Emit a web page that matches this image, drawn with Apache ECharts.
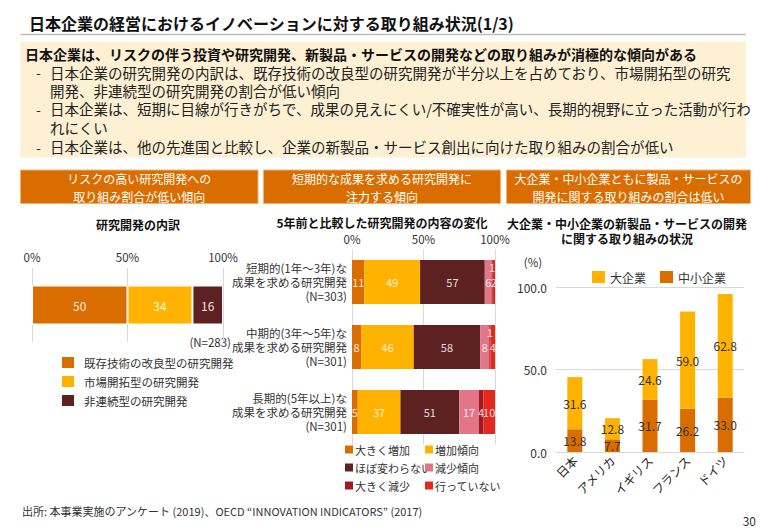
<!DOCTYPE html>
<html>
<head>
<meta charset="utf-8">
<title>日本企業の経営におけるイノベーションに対する取り組み状況(1/3)</title>
<script src="https://cdn.jsdelivr.net/npm/echarts@6.0.0/dist/echarts.min.js"></script>
<style>
  html, body { margin: 0; padding: 0; background: #fff; }
  #chartContent { width: 768px; height: 530px; }
</style>
</head>
<body>
<div id="chartContent"></div>
<script>
// 研究開発の内訳
var rdTypes = ['既存技術の改良型の研究開発', '市場開拓型の研究開発', '非連続型の研究開発'];
var rdShares = [50, 34, 16];
var rdTicks = [0, 50, 100];

// 5年前と比較した研究開発の内容の変化
var horizonLabels = [
    '短期的(1年～3年)な\n成果を求める研究開発\n(N=303)',
    '中期的(3年～5年)な\n成果を求める研究開発\n(N=301)',
    '長期的(5年以上)な\n成果を求める研究開発\n(N=301)'
];
var changeNames = ['大きく増加', '増加傾向', 'ほぼ変わらない', '減少傾向', '大きく減少', '行っていない'];
var changeBigUp = [11, 8, 5];
var changeUp = [49, 46, 37];
var changeSame = [57, 58, 51];
var changeDown = [6, 8, 17];
var changeBigDown = [1, 1, 4];
var changeNone = [2, 4, 10];

// 新製品・サービスの開発に関する取り組みの状況
var countries = ['日本', 'アメリカ', 'イギリス', 'フランス', 'ドイツ'];
var largeFirms = [31.6, 12.8, 24.6, 59.0, 62.8];
var smeFirms = [13.8, 7.7, 31.7, 26.2, 33.0];

var FONT = '"Noto Sans CJK JP", "Noto Sans", sans-serif';
var ORANGE = '#D96D00';
var YELLOW = '#FFB300';
var rdColors = [ORANGE, YELLOW, '#5E2121'];
var changeColors = [ORANGE, YELLOW, '#5E2121', '#E37589', '#A6171D', '#E3281E'];

// 各行の合計で割って100%積み上げにする
var changeRows = [changeBigUp, changeUp, changeSame, changeDown, changeBigDown, changeNone];
var rowTotals = horizonLabels.map(function (_, i) {
    return changeRows.reduce(function (s, r) { return s + r[i]; }, 0);
});

function txt(x, y, text, font, fill, align) {
    return {
        type: 'text', x: x, y: y, silent: true,
        style: { text: text, font: font, fill: fill || '#222', align: align || 'left', verticalAlign: 'middle' }
    };
}

// オレンジの見出しボックス（2行）
function headBox(x, w, line1, line2) {
    return [
        { type: 'rect', shape: { x: x, y: 170, width: w, height: 33.5 }, style: { fill: ORANGE, stroke: '#F0B27A', lineWidth: 1 } },
        txt(x + w / 2, 178.5, line1, '12px ' + FONT, '#fff', 'center'),
        txt(x + w / 2, 196, line2, '12px ' + FONT, '#fff', 'center')
    ];
}

var graphics = [
    txt(29, 22.5, '日本企業の経営におけるイノベーションに対する取り組み状況(1/3)', 'bold 16px ' + FONT, '#111'),
    { type: 'line', shape: { x1: 20.5, y1: 34.5, x2: 746, y2: 34.5 }, style: { stroke: '#BFBFBF', lineWidth: 1.5 } },
    { type: 'rect', shape: { x: 20.5, y: 41.5, width: 725.5, height: 116 }, style: { fill: '#FDF0D3' } },
    txt(25, 53.5, '日本企業は、リスクの伴う投資や研究開発、新製品・サービスの開発などの取り組みが消極的な傾向がある', 'bold 14px ' + FONT, '#111'),
    txt(36, 72, '-', '14px ' + FONT, '#333'),
    txt(50, 72, '日本企業の研究開発の内訳は、既存技術の改良型の研究開発が半分以上を占めており、市場開拓型の研究', '14.5px ' + FONT, '#222'),
    txt(50, 90, '開発、非連続型の研究開発の割合が低い傾向', '14.5px ' + FONT, '#222'),
    txt(36, 108.5, '-', '14px ' + FONT, '#333'),
    txt(50, 108.5, '日本企業は、短期に目線が行きがちで、成果の見えにくい/不確実性が高い、長期的視野に立った活動が行わ', '14.5px ' + FONT, '#222'),
    txt(50, 127.5, 'れにくい', '14.5px ' + FONT, '#222'),
    txt(36, 146.5, '-', '14px ' + FONT, '#333'),
    txt(50, 146.5, '日本企業は、他の先進国と比較し、企業の新製品・サービス創出に向けた取り組みの割合が低い', '14.5px ' + FONT, '#222'),
    // 各チャートのタイトル
    txt(138, 224, '研究開発の内訳', 'bold 12px ' + FONT, '#111', 'center'),
    txt(382, 222, '5年前と比較した研究開発の内容の変化', 'bold 12px ' + FONT, '#111', 'center'),
    txt(627, 223, '大企業・中小企業の新製品・サービスの開発', 'bold 12px ' + FONT, '#111', 'center'),
    txt(627, 238.5, 'に関する取り組みの状況', 'bold 12px ' + FONT, '#111', 'center'),
    txt(231, 342, '(N=283)', '11.5px ' + FONT, '#333', 'right'),
    txt(533, 262, '(%)', '11.5px ' + FONT, '#333', 'center'),
    // 出所・ページ番号
    txt(22, 511, '出所: 本事業実施のアンケート (2019)、OECD “INNOVATION INDICATORS” (2017)', '11px ' + FONT, '#333'),
    txt(756, 520, '30', '12px ' + FONT, '#333', 'right')
]
    .concat(headBox(20.5, 237.5, 'リスクの高い研究開発への', '取り組み割合が低い傾向'))
    .concat(headBox(263.5, 237, '短期的な成果を求める研究開発に', '注力する傾向'))
    .concat(headBox(506.5, 244, '大企業・中小企業ともに製品・サービスの', '開発に関する取り組みの割合は低い'));

var rdSeries = rdTypes.map(function (name, k) {
    return {
        name: name, type: 'bar', stack: 'rd', xAxisIndex: 0, yAxisIndex: 0, barWidth: 39,
        itemStyle: { color: rdColors[k], borderColor: '#fff', borderWidth: 1 },
        label: { show: true, position: 'inside', color: 'rgba(255,255,255,0.9)', fontSize: 12 },
        data: [rdShares[k]]
    };
});

var changeSeries = changeNames.map(function (name, k) {
    return {
        name: name, type: 'bar', stack: 'change', xAxisIndex: 1, yAxisIndex: 1, barWidth: 44,
        itemStyle: { color: changeColors[k] },
        label: {
            show: true, position: 'inside', color: 'rgba(255,255,255,0.85)', fontSize: 11,
            formatter: function (p) { return p.data.raw; }
        },
        data: changeRows[k].map(function (v, i) {
            var item = { value: v / rowTotals[i] * 100, raw: v };
            // 幅が極端に狭い「大きく減少」のラベルは上に寄せる
            if (k === 4 && v < 2) item.label = { position: 'insideTop', distance: 1 };
            return item;
        })
    };
});

var firmSeries = [
    { name: '中小企業', data: smeFirms, color: ORANGE },
    { name: '大企業', data: largeFirms, color: YELLOW }
].map(function (s) {
    return {
        name: s.name, type: 'bar', stack: 'firm', xAxisIndex: 2, yAxisIndex: 2, barWidth: 15,
        itemStyle: { color: s.color },
        label: { show: true, position: 'inside', color: '#333', fontSize: 12, formatter: function (p) { return p.value.toFixed(1); } },
        data: s.data
    };
});

var changeLegends = changeNames.map(function (name, k) {
    return {
        data: [name], left: k % 2 === 0 ? 345 : 425, top: 444 + Math.floor(k / 2) * 18,
        padding: 0, icon: 'rect', itemWidth: 8, itemHeight: 8, selectedMode: false,
        textStyle: { fontSize: 11, color: '#333', padding: [0, 0, 0, -3] }
    };
});

var pctAxis = function (grid) {
    return {
        gridIndex: grid, type: 'value', min: rdTicks[0], max: rdTicks[2], interval: rdTicks[1] - rdTicks[0], position: 'top',
        axisLabel: { formatter: '{value}%', margin: 5, fontSize: 11.5, color: '#333' },
        axisLine: { show: false }, axisTick: { show: false },
        splitLine: { lineStyle: { color: '#D9D9D9' } }
    };
};

var optionContent = {
    animation: false,
    textStyle: { fontFamily: FONT },
    graphic: graphics,
    grid: [
        { left: 32, top: 268, width: 191, height: 74 },
        { left: 352, top: 249.5, width: 143, height: 195 },
        { left: 556, top: 287, width: 188, height: 165 }
    ],
    xAxis: [
        pctAxis(0),
        pctAxis(1),
        {
            gridIndex: 2, type: 'category', data: countries,
            axisTick: { show: false }, axisLine: { lineStyle: { color: '#D9D9D9' } },
            axisLabel: { rotate: 45, fontSize: 12, color: '#222', margin: 6 }
        }
    ],
    yAxis: [
        { gridIndex: 0, type: 'category', data: ['研究開発の内訳'], show: false },
        {
            gridIndex: 1, type: 'category', inverse: true, data: horizonLabels,
            axisLine: { show: false }, axisTick: { show: false },
            axisLabel: { fontSize: 11.5, lineHeight: 14, color: '#333', margin: 5 }
        },
        {
            gridIndex: 2, type: 'value', min: 0, max: 100, interval: 50,
            axisLabel: { formatter: function (v) { return v.toFixed(1); }, fontSize: 12, color: '#333', margin: 9 },
            axisLine: { show: false }, axisTick: { show: false },
            splitLine: { lineStyle: { color: '#D9D9D9' } }
        }
    ],
    legend: [
        {
            data: rdTypes, orient: 'vertical', left: 60, top: 355, padding: 0, itemGap: 4,
            icon: 'rect', itemWidth: 14, itemHeight: 13, selectedMode: false,
            textStyle: { fontSize: 11.5, color: '#333', padding: [0, 0, 0, 4] }
        },
        {
            data: ['大企業', '中小企業'], left: 592, top: 271, padding: 0, itemGap: 14,
            icon: 'rect', itemWidth: 13, itemHeight: 12, selectedMode: false,
            textStyle: { fontSize: 12, color: '#333' }
        }
    ].concat(changeLegends),
    series: rdSeries.concat(changeSeries).concat(firmSeries)
};

var myChart = echarts.init(document.getElementById('chartContent'), null, { renderer: 'svg' });
myChart.setOption(optionContent);
</script>
</body>
</html>
